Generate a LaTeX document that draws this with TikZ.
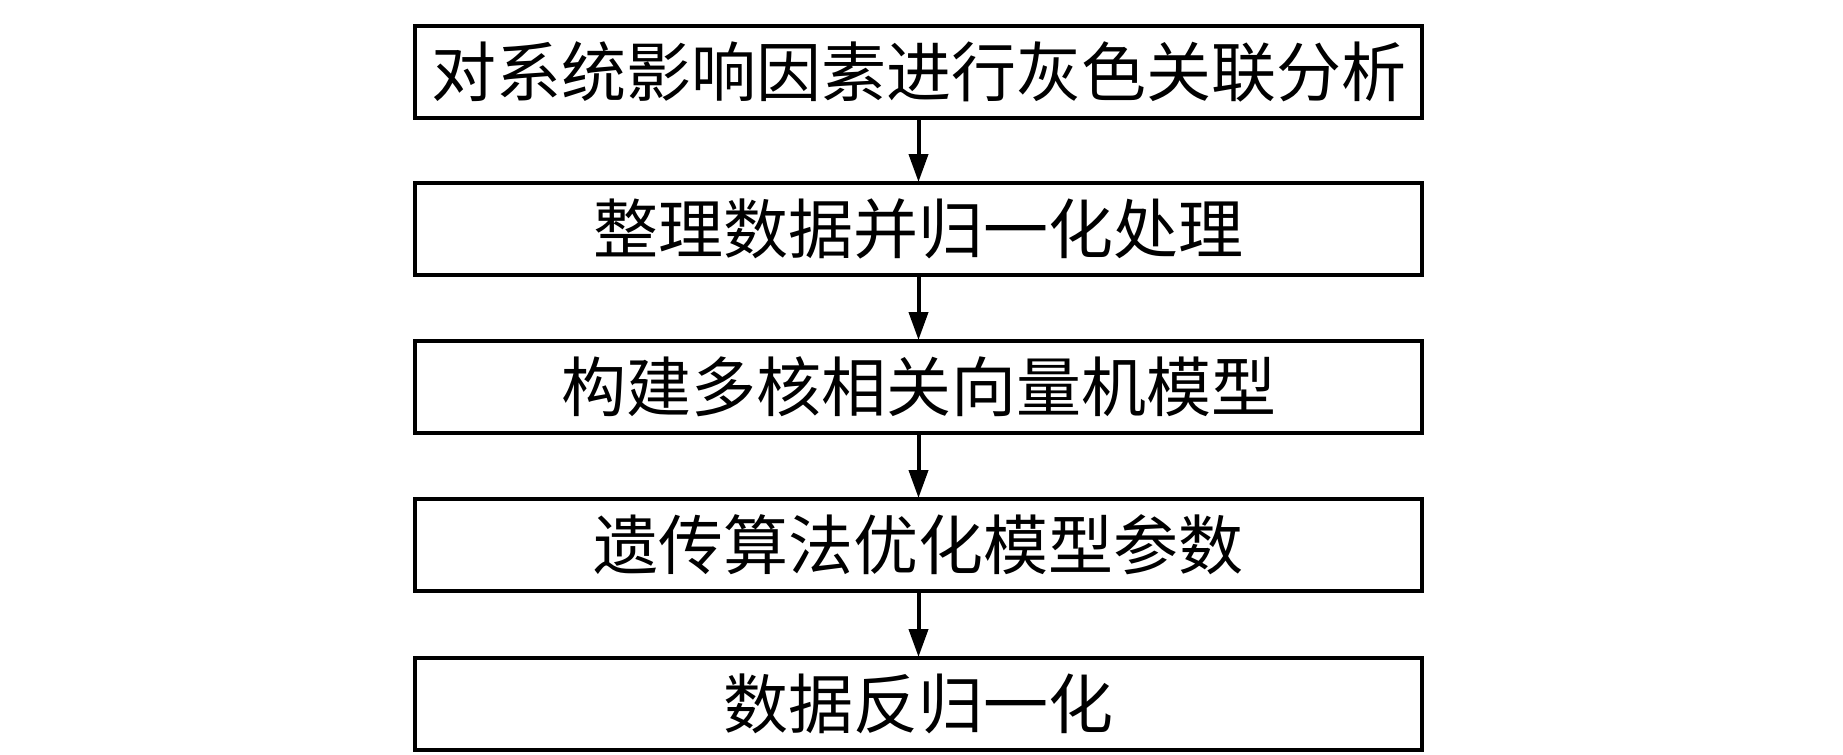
\documentclass[tikz,border=0pt]{standalone}
\usepackage{fontspec}
\newfontfamily\cjk{Noto Sans CJK SC}
\usetikzlibrary{arrows.meta}
\tikzset{
  stepbox/.style={draw=black, line width=2pt, minimum width=503.5pt, minimum height=46pt, inner sep=0pt, font=\cjk\fontsize{32.5pt}{36pt}\selectfont, fill=white},
  flowarrow/.style={line width=2pt, -{Triangle[length=14pt,width=9.5pt]}, shorten >=-0.5pt}
}
\begin{document}
\begin{tikzpicture}[x=0.5pt,y=-0.5pt]
\fill[white] (0,0) rectangle (1843,755);
\useasboundingbox (0,0) rectangle (1843,755);
\node[stepbox] (b1) at (918.5,72) {对系统影响因素进行灰色关联分析};
\node[stepbox] (b2) at (918.5,229) {整理数据并归一化处理};
\node[stepbox] (b3) at (918.5,387) {构建多核相关向量机模型};
\node[stepbox] (b4) at (918.5,545) {遗传算法优化模型参数};
\node[stepbox] (b5) at (918.5,704) {数据反归一化};
\draw[flowarrow] (b1.south) -- (b2.north);
\draw[flowarrow] (b2.south) -- (b3.north);
\draw[flowarrow] (b3.south) -- (b4.north);
\draw[flowarrow] (b4.south) -- (b5.north);
\end{tikzpicture}
\end{document}
